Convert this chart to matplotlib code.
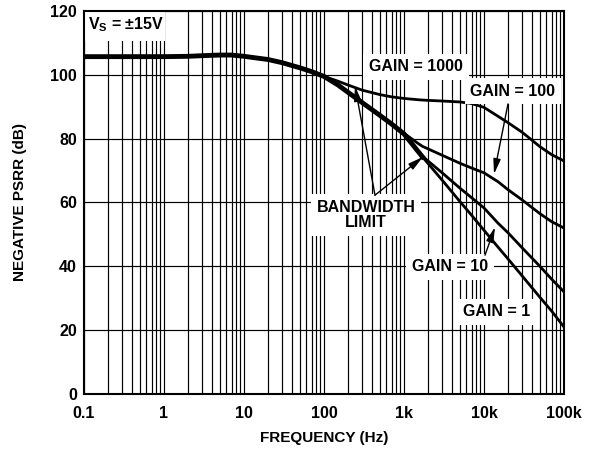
import numpy as np
import matplotlib.pyplot as plt
from matplotlib.ticker import LogLocator, NullFormatter
from matplotlib.patches import Rectangle

plt.rcParams['font.family'] = ['Liberation Sans', 'DejaVu Sans']
plt.rcParams['font.weight'] = 'bold'
plt.rcParams['mathtext.fontset'] = 'custom'
plt.rcParams['mathtext.rm'] = 'Liberation Sans:bold'
plt.rcParams['mathtext.bf'] = 'Liberation Sans:bold'

# frequency points (Hz)
freq = np.array([0.1, 0.2, 0.5, 1, 2, 3, 5, 7, 10, 20, 30, 50, 70, 100,
                 150, 200, 300, 500, 700, 1000, 1500, 1700, 2000, 3000,
                 5000, 7000, 10000, 15000, 20000, 30000, 50000, 70000, 100000])

# negative PSRR (dB)
low = [105.7, 105.7, 105.7, 105.7, 105.8, 106.0, 106.2, 106.2, 105.8,
       104.8, 103.8, 102.2, 101.0, 99.5]
gain1 = np.array(low + [96.8, 94.5, 91.3, 87.3, 84.6, 81.5, 76.0, 74.3, 72.2,
                        67.0, 60.3, 56.0, 51.3, 46.0, 42.3, 37.0, 30.3, 26.0, 21.0])
gain10 = np.array(low + [96.8, 94.5, 91.3, 87.3, 84.6, 81.5, 76.0, 74.5, 73.0,
                         69.3, 64.5, 61.5, 58.3, 53.5, 50.5, 45.8, 40.0, 36.0, 32.0])
gain100 = np.array(low + [96.8, 94.5, 91.3, 87.3, 84.6, 81.7, 78.5, 77.6, 76.8,
                          74.8, 72.3, 70.8, 69.3, 66.5, 64.0, 60.8, 56.5, 54.0, 52.0])
gain1000 = np.array(low + [98.0, 96.8, 95.2, 93.8, 93.1, 92.6, 92.2, 92.1, 92.0,
                           91.8, 91.5, 91.0, 89.8, 87.0, 85.0, 82.0, 77.5, 75.0, 73.0])

xticks = [0.1, 1, 10, 100, 1e3, 1e4, 1e5]
xlabels = ['0.1', '1', '10', '100', '1k', '10k', '100k']
yticks = [0, 20, 40, 60, 80, 100, 120]

fig = plt.figure(figsize=(5.93, 4.5), dpi=100)
ax = fig.add_axes([84 / 593, 56 / 450, 480 / 593, 383 / 450])

for g in [gain1000, gain100, gain10, gain1]:
    ax.plot(freq, g, color='k', lw=2.0, solid_capstyle='butt',
            solid_joinstyle='round', zorder=2)
# bandwidth limit region where curves overlap looks heavier
m = freq <= 1700
ax.plot(freq[m], gain1[m], color='k', lw=3.5, solid_joinstyle='round', zorder=2)

ax.set_xscale('log')
ax.set_xlim(0.1, 1e5)
ax.set_ylim(0, 120)
ax.set_xticks(xticks, xlabels)
ax.set_yticks(yticks)
ax.xaxis.set_minor_locator(LogLocator(base=10, subs=np.arange(2, 10), numticks=30))
ax.xaxis.set_minor_formatter(NullFormatter())
ax.tick_params(which='both', length=0, labelsize=11.5)
ax.tick_params(axis='x', pad=8.5)
ax.tick_params(axis='y', pad=5)
ax.set_axisbelow(True)
ax.grid(which='both', color='k', lw=0.85)
for s in ax.spines.values():
    s.set_linewidth(1.5)

fig.text(324 / 593, 1 - 438 / 450, 'FREQUENCY (Hz)', ha='center', va='center', fontsize=11)
fig.text(20 / 593, 1 - 202 / 450, 'NEGATIVE PSRR (dB)', ha='center', va='center',
         rotation=90, fontsize=11)

# supply label in a white patch at the top-left corner
ax.add_patch(Rectangle((0, 1 - 30 / 383), 81 / 480, 30 / 383, transform=ax.transAxes,
                       facecolor='white', edgecolor='none', zorder=1))
ax.text(4 / 480, 1 - 14 / 383, r'V$_{\mathrm{S}}$ = ±15V', transform=ax.transAxes,
        ha='left', va='center', fontsize=11.5, zorder=3)

box = dict(facecolor='white', edgecolor='none', boxstyle='square,pad=0.35')
ax.text(1413, 102.5, 'GAIN = 1000', ha='center', va='center', fontsize=11.5, bbox=box)
ax.text(23000, 94.9, 'GAIN = 100', ha='center', va='center', fontsize=11.5, bbox=box)
ax.text(335, 56.1, 'BANDWIDTH\nLIMIT', ha='center', va='center', fontsize=11.5,
        linespacing=1.0, bbox=box)
ax.text(3758, 39.8, 'GAIN = 10', ha='center', va='center', fontsize=11.5, bbox=box)
ax.text(14540, 25.7, 'GAIN = 1', ha='center', va='center', fontsize=11.5, bbox=box)

arr = dict(arrowstyle='-|>,head_length=0.9,head_width=0.22', color='k', lw=1.0,
           shrinkA=0, shrinkB=0)
ax.annotate('', xy=(13335, 68.9), xytext=(19950, 90.9), arrowprops=arr)
ax.annotate('', xy=(244, 96.5), xytext=(434, 62.3), arrowprops=arr)
ax.annotate('', xy=(1728, 74.3), xytext=(434, 62.3), arrowprops=arr)
ax.annotate('', xy=(13725, 52.3), xytext=(10290, 43.5), arrowprops=arr)

fig.savefig('out.png', dpi=100)
